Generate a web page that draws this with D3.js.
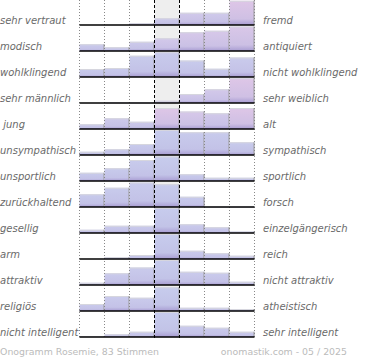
<!DOCTYPE html>
<html><head><meta charset="utf-8">
<script src="https://cdn.jsdelivr.net/npm/d3@7"></script>
<style>body{margin:0;background:#fff}svg{display:block}</style>
</head><body>
<svg id="c" width="370" height="360"></svg>
<script>
const leftLabels = ["sehr vertraut","modisch","wohlklingend","sehr männlich"," jung","unsympathisch","unsportlich","zurückhaltend","gesellig","arm","attraktiv","religiös","nicht intelligent"];
const rightLabels = ["fremd","antiquiert","nicht wohlklingend","sehr weiblich","alt","sympathisch","sportlich","forsch","einzelgängerisch","reich","nicht attraktiv","atheistisch","sehr intelligent"];
const scaleSteps = [1,2,3,4,5,6,7];
const votes = [
  [0,0,7,27,49,49,97],
  [27,15,37,51,75,81,98],
  [32,36,85,99,66,33,78],
  [0,2,2,9,36,55,99],
  [19,43,29,84,70,63,84],
  [13,23,44,100,91,91,51],
  [33,51,84,98,27,13,13],
  [51,77,98,91,41,1,1],
  [13,29,29,100,35,23,6],
  [0,8,16,100,33,23,13],
  [9,47,70,100,53,49,13],
  [28,60,53,95,13,13,8],
  [3,11,21,100,45,37,21]
];
const femaleShare = [
  [0,0,0.3,0.3,0.45,0.4,1],
  [0.2,0.2,0.3,0.55,0.65,0.7,0.8],
  [0.1,0.1,0.1,0.1,0.1,0.1,0.15],
  [0,0.2,0.2,0.5,0.5,0.55,1],
  [0.2,0.3,0.3,1,0.7,0.5,1],
  [0.1,0.1,0.1,0.05,0.1,0.1,0.1],
  [0.1,0.1,0.1,0.05,0.1,0.1,0.1],
  [0.1,0.1,0.1,0.05,0.1,0.1,0.1],
  [0.15,0.15,0.15,0.05,0.15,0.15,0.15],
  [0.15,0.15,0.15,0.05,0.15,0.15,0.15],
  [0.15,0.15,0.15,0.05,0.15,0.15,0.15],
  [0.15,0.15,0.15,0.05,0.15,0.15,0.15],
  [0.15,0.15,0.15,0.05,0.15,0.15,0.15]
];
const footerLeft = "Onogramm Rosemie, 83 Stimmen";
const footerRight = "onomastik.com - 05 / 2025";

const svg = d3.select("#c");
const x = d3.scaleBand().domain(scaleSteps).range([79.5, 254.5]).padding(0);
const rows = d3.scaleBand().domain(d3.range(leftLabels.length)).range([0, 338]).padding(0);
const h = d3.scaleLinear().domain([0, 100]).range([0, 25]);
const base = i => rows(i) + 25;
const topColor = d3.interpolateRgb("#c6cced", "#dec6e7");

const defs = svg.append("defs");
svg.append("rect").attr("x", x(4)).attr("y", 0).attr("width", x.bandwidth()).attr("height", 338).attr("fill", "#eeeeee");

const g = svg.append("g");
votes.forEach((row, i) => {
  row.forEach((v, j) => {
    if (v <= 0) return;
    const id = `gr${i}_${j}`;
    const tc = topColor(femaleShare[i][j]);
    const lg = defs.append("linearGradient").attr("id", id).attr("x1", 0).attr("y1", 0).attr("x2", 0).attr("y2", 1);
    lg.append("stop").attr("offset", "0%").attr("stop-color", tc);
    lg.append("stop").attr("offset", "75%").attr("stop-color", d3.interpolateRgb(tc, "#bcb8e0")(0.45));
    lg.append("stop").attr("offset", "100%").attr("stop-color", "#a89cd2");
    const bx = x(scaleSteps[j]), bw = x.bandwidth(), bh = h(v), by = base(i) - bh;
    g.append("rect").attr("x", bx).attr("y", by).attr("width", bw).attr("height", bh).attr("fill", `url(#${id})`);
    g.append("line").attr("x1", bx).attr("x2", bx + bw).attr("y1", by + 0.5).attr("y2", by + 0.5).attr("stroke", "#d6d6de").attr("stroke-width", 1);
    g.append("line").attr("x1", bx + bw - 0.5).attr("x2", bx + bw - 0.5).attr("y1", by).attr("y2", base(i)).attr("stroke", "#9a9a9a").attr("stroke-width", 1);
  });
});

const bounds = scaleSteps.map(s => x(s)).concat([x(7) + x.bandwidth()]);
bounds.forEach((bx, k) => {
  const mid = (k === 3 || k === 4);
  svg.append("line").attr("x1", bx).attr("x2", bx).attr("y1", 0).attr("y2", 338)
    .attr("stroke", mid ? "#000" : "#888").attr("stroke-width", 1)
    .attr("stroke-dasharray", mid ? "3,2" : "1,2");
});

leftLabels.forEach((_, i) => {
  svg.append("line").attr("x1", 79.5).attr("x2", 254.5).attr("y1", base(i)).attr("y2", base(i))
    .attr("stroke", "#000").attr("stroke-width", 1.6);
});

const lab = svg.append("g").attr("font-family", "DejaVu Sans").attr("font-style", "italic").attr("font-size", "10px").attr("fill", "#6a6a6a");
lab.selectAll("text.l").data(leftLabels).join("text").attr("class", "l")
  .attr("x", 0).attr("y", (d, i) => base(i) - 1).style("white-space", "pre").text(d => d);
lab.selectAll("text.r").data(rightLabels).join("text").attr("class", "r")
  .attr("x", 263).attr("y", (d, i) => base(i) - 1).text(d => d);

const foot = svg.append("g").attr("font-family", "DejaVu Sans").attr("font-size", "9.4px").attr("fill", "#bbb");
foot.append("text").attr("x", 0).attr("y", 355).text(footerLeft);
foot.append("text").attr("x", 347).attr("y", 355).attr("text-anchor", "end").text(footerRight);
</script>
</body></html>
